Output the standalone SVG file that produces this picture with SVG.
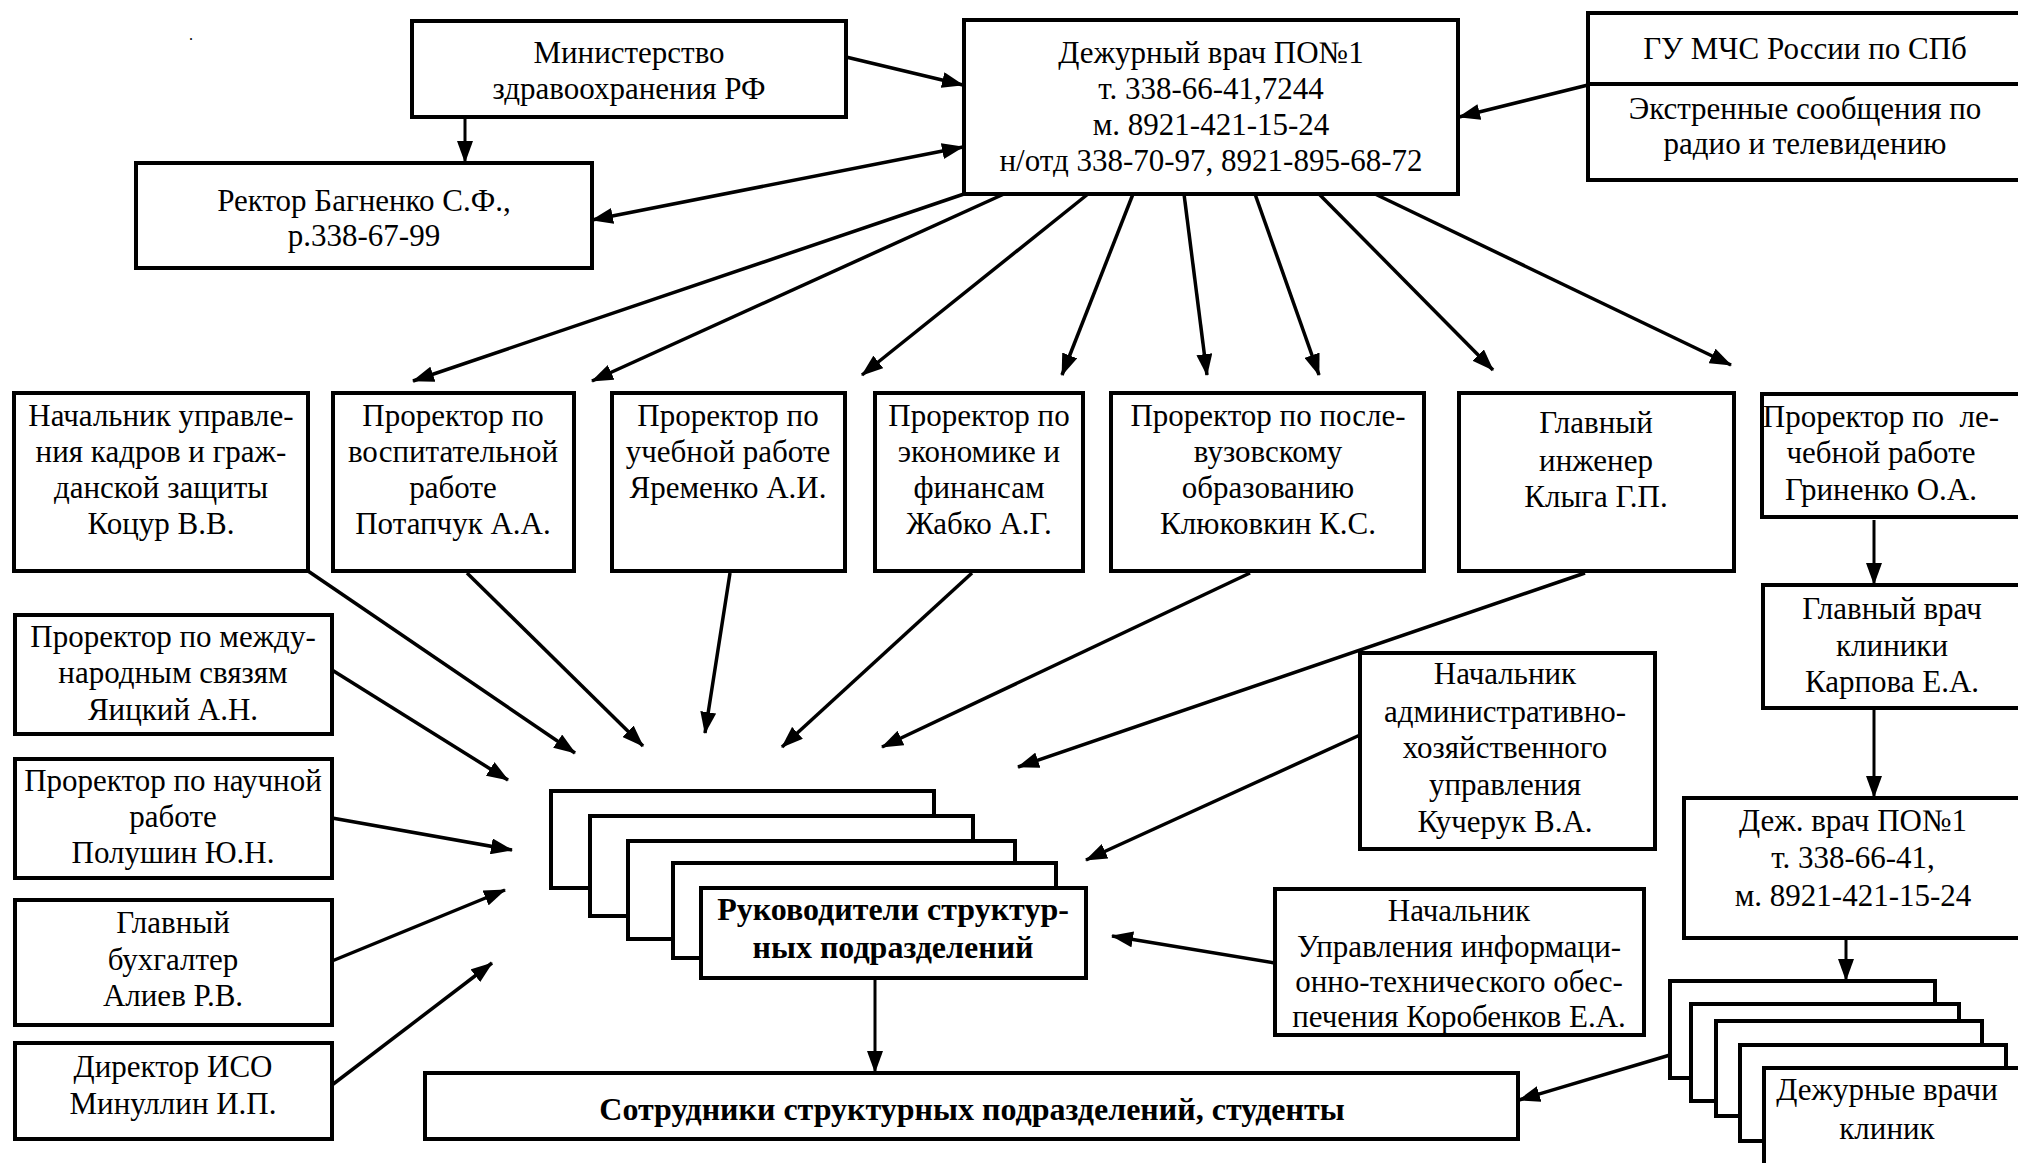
<svg xmlns="http://www.w3.org/2000/svg" width="2018" height="1163" viewBox="0 0 2018 1163">
<defs>
<marker id="ah" markerUnits="userSpaceOnUse" markerWidth="22" markerHeight="16" refX="21" refY="8" orient="auto-start-reverse" viewBox="0 0 22 16">
<path d="M0,0 L22,8 L0,16 z" fill="#000"/>
</marker>
<style>
.box{fill:#fff;stroke:#000;stroke-width:4}
.t{font-family:"Liberation Serif","Times New Roman",serif;font-size:31px;text-anchor:middle;fill:#000}
.b{font-weight:bold;font-size:32px}
.c line{stroke:#000;stroke-width:3.5;marker-end:url(#ah)}
</style>
</defs>
<rect width="2018" height="1163" fill="#fff"/>
<text x="191" y="40" class="t" style="font-size:16px">.</text>

<g class="c" id="connectors">
<line x1="465" y1="117" x2="465" y2="162" style="stroke-width:3"/>
<line x1="846" y1="57" x2="963" y2="85"/>
<line x1="592" y1="220" x2="963" y2="147" style="marker-start:url(#ah)"/>
<line x1="1588" y1="85" x2="1459" y2="117"/>
<line x1="964" y1="194" x2="413" y2="381"/>
<line x1="1004" y1="194" x2="592" y2="381"/>
<line x1="1088" y1="194" x2="862" y2="375"/>
<line x1="1133" y1="194" x2="1062" y2="375"/>
<line x1="1184" y1="194" x2="1207" y2="375"/>
<line x1="1255" y1="194" x2="1319" y2="375"/>
<line x1="1319" y1="194" x2="1493" y2="370"/>
<line x1="1375" y1="194" x2="1731" y2="365"/>
<line x1="308" y1="571" x2="575" y2="753"/>
<line x1="467" y1="573" x2="643" y2="746"/>
<line x1="730" y1="573" x2="705" y2="733"/>
<line x1="972" y1="573" x2="782" y2="747"/>
<line x1="1250" y1="573" x2="882" y2="747"/>
<line x1="1585" y1="573" x2="1018" y2="767"/>
<line x1="1360" y1="735" x2="1086" y2="860"/>
<line x1="1275" y1="963" x2="1112" y2="936"/>
<line x1="332" y1="670" x2="508" y2="780"/>
<line x1="332" y1="818" x2="512" y2="850"/>
<line x1="332" y1="961" x2="505" y2="890"/>
<line x1="332" y1="1085" x2="492" y2="963"/>
<line x1="875" y1="978" x2="875" y2="1072" style="stroke-width:3"/>
<line x1="1874" y1="520" x2="1874" y2="584" style="stroke-width:3"/>
<line x1="1874" y1="708" x2="1874" y2="797" style="stroke-width:3"/>
<line x1="1846" y1="938" x2="1846" y2="980" style="stroke-width:3"/>
<line x1="1670" y1="1055" x2="1519" y2="1100"/>
</g>

<g id="ministry">
<rect class="box" x="412" y="21" width="434" height="96"/>
<text class="t" x="629" y="63">Министерство</text>
<text class="t" x="629" y="99">здравоохранения РФ</text>
</g>

<g id="rector">
<rect class="box" x="136" y="163" width="456" height="105"/>
<text class="t" x="364" y="211">Ректор Багненко С.Ф.,</text>
<text class="t" x="364" y="246">р.338-67-99</text>
</g>

<g id="duty-doctor">
<rect class="box" x="964" y="20" width="494" height="174"/>
<text class="t" x="1211" y="63">Дежурный врач ПО№1</text>
<text class="t" x="1211" y="99">т. 338-66-41,7244</text>
<text class="t" x="1211" y="135">м. 8921-421-15-24</text>
<text class="t" x="1211" y="171">н/отд 338-70-97, 8921-895-68-72</text>
</g>

<g id="mchs">
<rect class="box" x="1588" y="13" width="450" height="167"/>
<line x1="1588" y1="84" x2="2038" y2="84" stroke="#000" stroke-width="4"/>
<text class="t" x="1805" y="59">ГУ МЧС России по СПб</text>
<text class="t" x="1805" y="119">Экстренные сообщения по</text>
<text class="t" x="1805" y="154">радио и телевидению</text>
</g>

<g id="hr">
<rect class="box" x="14" y="393" width="294" height="178"/>
<text class="t" x="161" y="426">Начальник управле-</text>
<text class="t" x="161" y="462">ния кадров и граж-</text>
<text class="t" x="161" y="498">данской защиты</text>
<text class="t" x="161" y="534">Коцур В.В.</text>
</g>

<g id="vr-education">
<rect class="box" x="333" y="393" width="241" height="178"/>
<text class="t" x="453" y="426">Проректор по</text>
<text class="t" x="453" y="462">воспитательной</text>
<text class="t" x="453" y="498">работе</text>
<text class="t" x="453" y="534">Потапчук А.А.</text>
</g>

<g id="vr-study">
<rect class="box" x="612" y="393" width="233" height="178"/>
<text class="t" x="728" y="426">Проректор по</text>
<text class="t" x="728" y="462">учебной работе</text>
<text class="t" x="728" y="498">Яременко А.И.</text>
</g>

<g id="vr-economy">
<rect class="box" x="875" y="393" width="208" height="178"/>
<text class="t" x="979" y="426">Проректор по</text>
<text class="t" x="979" y="462">экономике и</text>
<text class="t" x="979" y="498">финансам</text>
<text class="t" x="979" y="534">Жабко А.Г.</text>
</g>

<g id="vr-postgrad">
<rect class="box" x="1111" y="393" width="313" height="178"/>
<text class="t" x="1268" y="426">Проректор по после-</text>
<text class="t" x="1268" y="462">вузовскому</text>
<text class="t" x="1268" y="498">образованию</text>
<text class="t" x="1268" y="534">Клюковкин К.С.</text>
</g>

<g id="chief-engineer">
<rect class="box" x="1459" y="393" width="275" height="178"/>
<text class="t" x="1596" y="433">Главный</text>
<text class="t" x="1596" y="471">инженер</text>
<text class="t" x="1596" y="507">Клыга Г.П.</text>
</g>

<g id="vr-clinical">
<rect class="box" x="1762" y="394" width="270" height="123"/>
<text class="t" x="1881" y="427" xml:space="preserve">Проректор по  ле-</text>
<text class="t" x="1881" y="463">чебной работе</text>
<text class="t" x="1881" y="500">Гриненко О.А.</text>
</g>

<g id="vr-international">
<rect class="box" x="15" y="615" width="317" height="119"/>
<text class="t" x="173" y="647">Проректор по между-</text>
<text class="t" x="173" y="683">народным связям</text>
<text class="t" x="173" y="720">Яицкий А.Н.</text>
</g>

<g id="vr-science">
<rect class="box" x="15" y="759" width="317" height="119"/>
<text class="t" x="173" y="791">Проректор по научной</text>
<text class="t" x="173" y="827">работе</text>
<text class="t" x="173" y="863">Полушин Ю.Н.</text>
</g>

<g id="accountant">
<rect class="box" x="15" y="900" width="317" height="125"/>
<text class="t" x="173" y="933">Главный</text>
<text class="t" x="173" y="970">бухгалтер</text>
<text class="t" x="173" y="1006">Алиев Р.В.</text>
</g>

<g id="iso">
<rect class="box" x="15" y="1043" width="317" height="96"/>
<text class="t" x="173" y="1077">Директор ИСО</text>
<text class="t" x="173" y="1114">Минуллин И.П.</text>
</g>

<g id="ahu">
<rect class="box" x="1360" y="653" width="295" height="196"/>
<text class="t" x="1505" y="684">Начальник</text>
<text class="t" x="1505" y="722">административно-</text>
<text class="t" x="1505" y="758">хозяйственного</text>
<text class="t" x="1505" y="795">управления</text>
<text class="t" x="1505" y="832">Кучерук В.А.</text>
</g>

<g id="uito">
<rect class="box" x="1275" y="889" width="369" height="146"/>
<text class="t" x="1459" y="921">Начальник</text>
<text class="t" x="1459" y="957">Управления информаци-</text>
<text class="t" x="1459" y="992">онно-технического обес-</text>
<text class="t" x="1459" y="1027">печения Коробенков Е.А.</text>
</g>

<g id="clinic-chief">
<rect class="box" x="1763" y="585" width="270" height="123"/>
<text class="t" x="1892" y="619">Главный врач</text>
<text class="t" x="1892" y="656">клиники</text>
<text class="t" x="1892" y="692">Карпова Е.А.</text>
</g>

<g id="duty-doctor-2">
<rect class="box" x="1684" y="798" width="350" height="140"/>
<text class="t" x="1853" y="831">Деж. врач ПО№1</text>
<text class="t" x="1853" y="868">т. 338-66-41,</text>
<text class="t" x="1853" y="906">м. 8921-421-15-24</text>
</g>

<g id="heads">
<rect class="box" x="551" y="791" width="383" height="97"/>
<rect class="box" x="590" y="816" width="383" height="100"/>
<rect class="box" x="628" y="841" width="387" height="98"/>
<rect class="box" x="673" y="863" width="383" height="95"/>
<rect class="box" x="701" y="888" width="385" height="90"/>
<text class="t b" x="893" y="920">Руководители структур-</text>
<text class="t b" x="893" y="958">ных подразделений</text>
</g>

<g id="staff">
<rect class="box" x="425" y="1073" width="1093" height="66"/>
<text class="t b" x="972" y="1120">Сотрудники структурных подразделений, студенты</text>
</g>

<g id="clinic-duty-doctors">
<rect class="box" x="1670" y="981" width="265" height="97"/>
<rect class="box" x="1691" y="1004" width="268" height="97"/>
<rect class="box" x="1716" y="1021" width="266" height="95"/>
<rect class="box" x="1740" y="1045" width="266" height="96"/>
<rect class="box" x="1764" y="1068" width="270" height="120"/>
<text class="t" x="1887" y="1100">Дежурные врачи</text>
<text class="t" x="1887" y="1139">клиник</text>
</g>
</svg>
